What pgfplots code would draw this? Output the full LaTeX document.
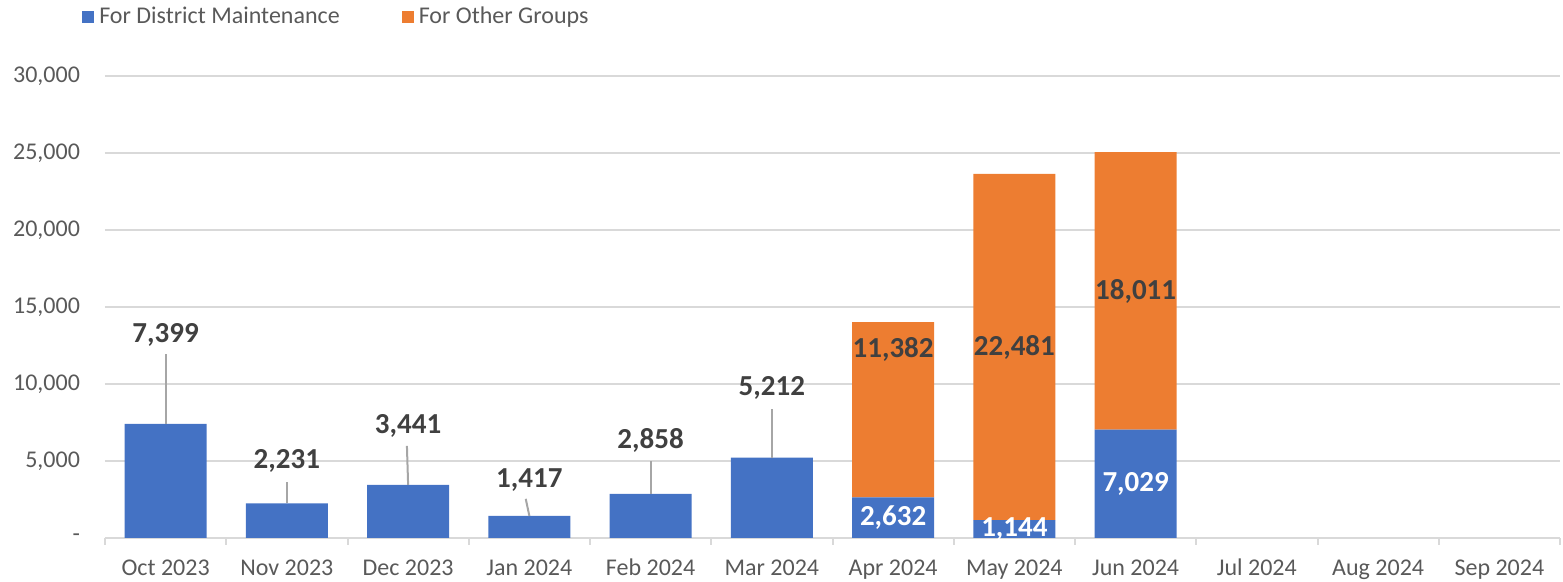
\documentclass[border=0pt]{standalone}
\usepackage{pgfplots}
\pgfplotsset{compat=1.18}
\usepackage{pgfplotstable}
\usepackage{fontspec}
\setmainfont{Carlito}
\definecolor{cblue}{HTML}{4472C4}
\definecolor{corange}{HTML}{ED7D31}
\definecolor{ctick}{HTML}{595959}
\definecolor{clab}{HTML}{404040}
\definecolor{cgrid}{HTML}{D9D9D9}
\definecolor{clead}{HTML}{A6A6A6}

\pgfplotstableread{
x dm og
0 7399 0
1 2231 0
2 3441 0
3 1417 0
4 2858 0
5 5212 0
6 2632 11382
7 1144 22481
8 7029 18011
}\bars

\pgfplotstableread{
x y lab
0 13200 7,399
1 5000 2,231
2 7270 3,441
3 3770 1,417
4 6300 2,858
5 9740 5,212
6 12200 11,382
7 12380 22,481
8 16030 18,011
}\darklabels

\pgfplotstableread{
x y lab
6 1316 2,632
7 572 1,144
8 3514 7,029
}\whitelabels

\pgfplotsset{base/.style={scale only axis, width=727.5pt, height=231pt,
  xmin=-0.5, xmax=11.5, ymin=0, ymax=30000}}

\begin{document}
\begin{tikzpicture}
\begin{axis}[base, ybar stacked, bar width=41pt,
  axis x line*=bottom, axis y line*=left,
  y axis line style={draw=none},
  x axis line style={draw=cgrid, line width=1pt, -},
  scaled y ticks=false,
  ytick={0,5000,...,30000},
  yticklabels={-,{5,000},{10,000},{15,000},{20,000},{25,000},{30,000}},
  ymajorgrids, grid style={draw=cgrid, line width=1pt},
  xtick={0,...,11},
  xticklabels={Oct 2023,Nov 2023,Dec 2023,Jan 2024,Feb 2024,Mar 2024,Apr 2024,May 2024,Jun 2024,Jul 2024,Aug 2024,Sep 2024},
  major tick length=0pt,
  minor xtick={-0.5,0.5,...,11.5},
  minor tick length=3.5pt, tick align=outside,
  minor tick style={draw=cgrid, line width=1pt},
  ticklabel style={font=\fontsize{12}{14}\selectfont, text=ctick},
  /pgf/number format/assume math mode=true,
  xticklabel style={inner sep=0pt, yshift=-9.5pt, text height=9pt, text depth=2pt},
  yticklabel style={xshift=-9pt},
  legend style={at={(-0.02,1.1277)}, anchor=west, draw=none, fill=none,
    legend columns=2, font=\fontsize{12}{14}\selectfont, text=ctick,
    /tikz/every even column/.append style={column sep=29.5pt},
    nodes={inner sep=1.5pt}},
  legend image code/.code={\fill[#1] (0pt,-3pt) rectangle (6pt,3pt);},
]
\addplot[fill=cblue, draw=none] table[x=x, y=dm] {\bars};
\addlegendentry{\hspace{1pt}For District Maintenance}
\addplot[fill=corange, draw=none] table[x=x, y=og] {\bars};
\addlegendentry{\hspace{1pt}For Other Groups}
\end{axis}
\begin{axis}[base, hide axis, clip=false]
\addplot[clead, line width=1pt] coordinates {(0,7399) (0,11950)};
\addplot[clead, line width=1pt] coordinates {(1,2231) (1,3640)};
\addplot[clead, line width=1pt] coordinates {(2,3441) (1.99,5975)};
\addplot[clead, line width=1pt] coordinates {(3,1417) (2.97,2530)};
\addplot[clead, line width=1pt] coordinates {(4,2858) (4,5000)};
\addplot[clead, line width=1pt] coordinates {(5,5212) (5,8380)};
\addplot[draw=none, mark=none, nodes near coords, point meta=explicit symbolic,
  every node near coord/.style={anchor=center, font=\fontsize{14.5}{16}\selectfont\bfseries, text=clab}]
  table[x=x, y=y, meta=lab] {\darklabels};
\addplot[draw=none, mark=none, nodes near coords, point meta=explicit symbolic,
  every node near coord/.style={anchor=center, font=\fontsize{14.5}{16}\selectfont\bfseries, text=white}]
  table[x=x, y=y, meta=lab] {\whitelabels};
\end{axis}
\path (current axis.south west) ++(-52.5pt,-22pt) rectangle ([xshift=1.5pt,yshift=37.5pt]current axis.north east);
\end{tikzpicture}
\end{document}
